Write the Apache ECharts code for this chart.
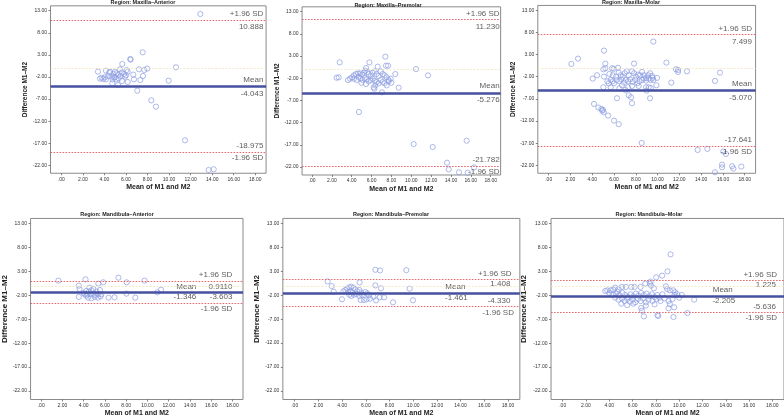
<!DOCTYPE html>
<html><head><meta charset="utf-8">
<script src="https://cdn.jsdelivr.net/npm/echarts@6/dist/echarts.min.js"></script>
<style>html,body{margin:0;padding:0;background:#fff}#c{width:784px;height:418px}</style>
</head><body><div id="c"></div>
<script>
// ---------- data ----------
const panelTitles = ['Region: Maxilla–Anterior','Region: Maxilla–Premolar','Region: Maxilla–Molar',
  'Region: Mandibula–Anterior','Region: Mandibula–Premolar','Region: Mandibula–Molar'];
const xAxisName = 'Mean of M1 and M2';
const yAxisName = 'Difference M1–M2';
const yTicks = [13, 8, 3, -2, -7, -12, -17, -22];
const yTickLabels = ['13.00','8.00','3.00','-2.00','-7.00','-12.00','-17.00','-22.00'];
const xTicks = [0, 2, 4, 6, 8, 10, 12, 14, 16, 18];
const xTickLabels = ['.00','2.00','4.00','6.00','8.00','10.00','12.00','14.00','16.00','18.00'];

const meanDiff = [-4.043, -5.276, -5.070, -1.346, -1.461, -2.205];
const upperLimit = [10.888, 11.230, 7.499, 0.9110, 1.408, 1.225];
const lowerLimit = [-18.975, -21.782, -17.641, -3.603, -4.330, -5.636];
const upperText = ['10.888','11.230','7.499','0.9110','1.408','1.225'];
const meanText = ['-4.043','-5.276','-5.070','-1.346','-1.461','-2.205'];
const lowerText = ['-18.975','-21.782','-17.641','-3.603','-4.330','-5.636'];

const maxillaAnterior = [[12.90,12.25],[7.55,3.57],[6.40,2.07],[6.43,1.91],[5.66,0.93],[10.64,0.18],[7.98,-0.12],[7.70,-0.42],[7.21,-0.27],[3.40,-0.80],[4.14,-0.57],[4.52,-0.80],[4.98,-0.88],[5.44,-0.27],[6.06,-0.42],[6.16,-0.80],[5.13,-1.18],[4.83,-1.33],[5.29,-1.55],[5.60,-1.03],[5.82,-1.33],[6.00,-1.63],[5.91,-1.93],[5.51,-1.78],[4.98,-2.08],[4.67,-1.93],[4.36,-1.78],[4.05,-2.08],[3.74,-2.16],[3.59,-2.38],[3.90,-2.46],[4.14,-2.54],[4.45,-1.03],[4.76,-2.54],[4.89,-2.08],[5.10,-2.54],[5.32,-2.31],[6.68,-1.48],[6.74,-2.54],[7.33,-2.69],[7.58,-1.78],[5.63,-2.91],[6.16,-3.14],[4.73,-3.44],[5.26,-3.82],[9.96,-2.84],[7.05,-5.10],[8.35,-7.29],[8.78,-8.72],[11.48,-16.34],[13.67,-23.05],[14.14,-22.90]];

const maxillaPremolar = [[2.79,1.58],[7.39,2.86],[5.78,1.58],[6.62,0.60],[7.45,0.83],[7.66,0.83],[5.44,0.30],[10.48,0.08],[11.69,-1.35],[8.39,-1.05],[2.48,-1.88],[2.69,-1.80],[3.63,-2.40],[3.83,-2.10],[4.03,-1.80],[4.23,-1.35],[4.43,-1.05],[4.63,-0.90],[4.84,-0.90],[5.04,-1.20],[5.24,-0.75],[5.37,-0.30],[5.57,-0.60],[5.71,-1.05],[5.91,-1.50],[6.11,-0.75],[6.31,-0.45],[6.51,-1.05],[6.72,-1.50],[6.92,-0.45],[7.12,-1.05],[7.32,-1.35],[7.52,-1.80],[7.72,-2.40],[7.92,-2.10],[4.70,-1.65],[4.90,-2.10],[5.10,-2.40],[5.31,-1.95],[5.51,-2.25],[5.71,-2.70],[5.91,-2.40],[6.11,-2.10],[6.31,-2.55],[6.51,-2.85],[6.72,-3.15],[6.92,-2.40],[7.12,-2.85],[7.32,-3.15],[7.52,-3.60],[7.72,-2.70],[7.99,-3.00],[4.23,-2.10],[4.50,-2.40],[4.97,-3.00],[6.38,-3.60],[5.44,-3.30],[8.73,-4.13],[6.21,-4.05],[6.28,-4.36],[7.05,-5.18],[4.73,-9.61],[10.24,-16.83],[12.16,-17.50],[15.58,-16.08],[13.60,-21.03],[13.77,-22.54],[14.81,-23.21],[15.68,-23.29],[16.32,-22.09]];

const maxillaMolar = [[9.61,5.93],[5.08,3.90],[2.69,2.09],[2.08,0.89],[5.20,0.96],[7.84,0.96],[10.81,1.19],[11.69,-0.32],[11.88,-0.47],[11.88,-0.92],[12.70,-0.77],[15.73,-1.07],[15.27,-2.95],[11.26,-3.33],[9.89,-3.93],[4.04,-2.42],[4.44,-1.67],[5.02,-0.32],[5.20,-0.09],[5.82,-0.09],[5.97,-0.24],[6.37,0.02],[5.57,-1.37],[5.88,-1.67],[6.18,-1.97],[6.43,-1.07],[6.61,-1.67],[6.80,-1.97],[6.98,-1.22],[7.16,-0.77],[7.35,-1.67],[7.65,-0.77],[7.84,-1.22],[8.02,-1.97],[8.20,-1.52],[8.39,-1.67],[8.57,-0.92],[8.75,-1.67],[8.94,-2.27],[9.12,-1.67],[9.31,-1.22],[9.49,-1.82],[9.61,-2.73],[9.95,-2.27],[5.08,-1.97],[5.39,-3.03],[5.69,-2.73],[5.88,-3.03],[6.00,-3.48],[6.24,-2.73],[6.49,-3.03],[6.67,-2.58],[6.92,-3.33],[7.10,-2.73],[7.29,-3.03],[7.47,-2.58],[7.71,-3.18],[7.96,-2.73],[8.14,-3.48],[8.33,-3.03],[8.57,-2.73],[8.75,-2.42],[8.94,-2.88],[9.18,-2.42],[9.37,-2.73],[9.55,-2.27],[5.02,-4.38],[5.69,-4.38],[6.49,-4.61],[7.04,-4.98],[7.29,-4.38],[7.65,-4.08],[8.26,-4.08],[8.94,-4.38],[9.18,-4.38],[9.00,-5.13],[9.37,-4.53],[5.51,-3.48],[6.73,-3.93],[6.27,-6.86],[7.35,-6.19],[7.56,-6.64],[7.65,-7.99],[9.31,-6.86],[4.16,-8.14],[4.56,-8.97],[4.84,-9.27],[4.99,-9.50],[5.05,-10.02],[4.90,-9.65],[5.45,-10.78],[6.00,-11.91],[6.43,-12.73],[8.54,-16.95],[13.68,-18.53],[14.57,-18.30],[16.04,-18.90],[16.28,-19.43],[15.92,-21.84],[15.92,-22.44],[16.84,-22.21],[16.96,-22.74],[17.69,-22.29],[15.27,-23.57]];

const mandibulaAnterior = [[1.62,1.08],[4.17,1.35],[7.27,1.70],[9.73,1.08],[5.84,0.73],[5.38,0.45],[8.05,0.73],[3.54,0.03],[3.61,-0.67],[4.54,-0.39],[4.72,-0.95],[4.91,-0.67],[4.48,-1.23],[4.23,-1.09],[3.98,-1.51],[5.22,-1.23],[5.53,-0.88],[4.35,-1.78],[4.66,-1.78],[4.91,-1.64],[5.10,-1.92],[5.35,-1.78],[5.66,-1.78],[4.10,-1.78],[3.54,-2.34],[4.41,-2.48],[4.72,-2.62],[5.04,-2.34],[5.35,-2.48],[5.60,-2.20],[4.23,-2.06],[6.34,-2.48],[6.90,-2.41],[8.02,-1.64],[8.86,-2.48],[10.94,-1.37],[11.28,-0.81]];

const mandibulaPremolar = [[6.81,3.35],[7.20,3.21],[9.42,3.28],[2.78,0.92],[3.12,-0.06],[3.29,-1.24],[5.48,0.71],[6.81,0.08],[7.28,-0.54],[9.70,-0.61],[4.42,-0.61],[4.61,-0.33],[4.78,-0.19],[4.95,-0.47],[5.12,-0.75],[4.27,-0.89],[4.11,-1.17],[4.50,-1.31],[4.72,-1.03],[4.89,-1.44],[5.29,-1.17],[5.46,-0.89],[5.62,-1.44],[5.01,-1.86],[5.23,-1.72],[5.46,-2.14],[5.68,-1.86],[5.96,-1.31],[6.13,-1.58],[6.24,-2.00],[4.61,-1.86],[4.78,-2.14],[3.99,-2.83],[5.57,-2.97],[5.85,-2.97],[6.07,-2.83],[6.36,-2.69],[6.64,-2.28],[6.86,-3.04],[7.17,-2.42],[7.54,-2.42],[8.30,-3.46],[9.98,-3.04]];

const mandibulaMolar = [[9.26,6.58],[9.00,3.03],[8.54,2.12],[8.03,1.77],[7.54,0.87],[7.49,0.45],[7.09,0.45],[7.60,0.03],[7.83,-0.53],[6.69,-0.25],[6.17,-0.25],[5.89,-0.25],[5.43,-0.25],[5.09,-0.25],[4.80,-0.67],[4.51,-0.39],[4.34,-0.81],[4.11,-0.95],[3.83,-0.95],[4.69,-1.23],[8.86,-0.11],[8.97,-0.67],[9.20,-0.95],[9.49,-0.95],[9.66,-1.37],[9.83,-1.78],[10.00,-2.48],[9.60,-1.92],[10.23,-1.92],[4.00,-1.51],[4.29,-1.78],[4.57,-1.64],[4.86,-1.92],[5.14,-1.51],[5.37,-1.92],[5.60,-2.34],[5.83,-1.78],[6.06,-2.20],[6.29,-1.64],[6.51,-2.06],[6.74,-1.51],[6.97,-1.92],[7.20,-1.64],[7.43,-2.20],[7.66,-1.78],[7.89,-2.34],[8.11,-1.92],[8.34,-2.48],[8.57,-1.78],[4.51,-2.48],[4.80,-2.90],[5.09,-2.62],[5.31,-3.18],[5.54,-2.76],[5.77,-3.32],[6.00,-2.90],[6.23,-3.46],[6.46,-2.76],[6.69,-3.18],[6.91,-2.62],[7.14,-3.46],[7.37,-2.90],[7.71,-3.18],[8.06,-2.76],[8.40,-3.18],[8.74,-2.62],[9.09,-3.18],[9.43,-2.76],[5.03,-3.74],[5.54,-4.02],[6.06,-3.74],[7.14,-4.15],[7.89,-3.88],[9.20,-3.81],[9.57,-4.50],[9.09,-4.71],[11.29,-2.90],[10.71,-5.69],[9.51,-6.53],[8.14,-6.11],[8.20,-6.32],[6.97,-6.39],[6.74,-4.64],[6.80,-5.20],[3.66,-1.09]];

const panelData = [maxillaAnterior, maxillaPremolar, maxillaMolar, mandibulaAnterior, mandibulaPremolar, mandibulaMolar];

// ---------- layout (pixel anchors of ticks) ----------
const X_MIN = -1, X_MAX = 19, Y_MIN = -23.8, Y_MAX = 14.1;
const layout = [
  {x0: 61.3, x18: 255.3, y13: 10.7, ym22: 165.3, tx: 143, ty: 2, yGap: 22, big: false},
  {x0: 312.0, x18: 490.7, y13: 11.7, ym22: 167.0, tx: 388, ty: 5, yGap: 15.5, big: false},
  {x0: 548.7, x18: 744.7, y13: 10.3, ym22: 165.3, tx: 631, ty: 2.3, yGap: 20, big: false},
  {x0: 39.3, x18: 232.3, y13: 223.7, ym22: 391.0, tx: 117, ty: 214.7, yGap: 20.5, big: true},
  {x0: 294.7, x18: 508.0, y13: 223.7, ym22: 391.7, tx: 391, ty: 214.7, yGap: 21, big: true},
  {x0: 562.7, x18: 772.7, y13: 223.7, ym22: 391.0, tx: 649, ty: 214.7, yGap: 23, big: true}
];
// annotation placement: [text, x(data), line value, pixel dy]
function annotations(i) {
  const U = upperLimit[i], M = meanDiff[i], L = lowerLimit[i];
  const r = [18.75, 18.9, 18.67][i];
  if (i < 3) return [
    ['+1.96 SD', r, U, -6], [upperText[i], r, U, 7],
    ['Mean', r, M, -6.5], [meanText[i], r, M, 7.5],
    [lowerText[i], r, L, -6.5], ['-1.96 SD', r, L, 6]
  ];
  if (i === 3) return [
    ['+1.96 SD', 18.0, U, -7], [upperText[i], 18.0, U, 5.5], ['Mean', 14.6, U, 5.5],
    [meanText[i], 14.6, M, 5], [lowerText[i], 18.0, L, -6], ['-1.96 SD', 18.0, L, 5.5]
  ];
  if (i === 4) return [
    ['+1.96 SD', 18.3, U, -5.5], [upperText[i], 18.2, U, 5], ['Mean', 14.4, M, -6.3],
    [meanText[i], 14.6, M, 5.5], [lowerText[i], 18.2, L, -6], ['-1.96 SD', 18.5, L, 6]
  ];
  return [
    ['+1.96 SD', 18.4, U, -5.5], [upperText[i], 18.3, U, 4.8], ['Mean', 14.6, M, -6.5],
    [meanText[i], 14.8, M, 4.5], [lowerText[i], 18.3, L, -5.5], ['-1.96 SD', 18.4, L, 5]
  ];
}

const FONT = 'Liberation Sans, Arial, sans-serif';
const grids = [], xAxes = [], yAxes = [], series = [], graphics = [];
layout.forEach((p, i) => {
  const px = (p.x18 - p.x0) / 18;
  const py = (p.ym22 - p.y13) / 35;
  const left = p.x0 + (X_MIN) * px;
  const top = p.y13 - (Y_MAX - 13) * py;
  grids.push({left: left, top: top, width: (X_MAX - X_MIN) * px, height: (Y_MAX - Y_MIN) * py,
    show: true, borderColor: '#8a8a8a', borderWidth: 1, backgroundColor: '#fff', containLabel: false});
  xAxes.push({type: 'value', gridIndex: i, min: X_MIN, max: X_MAX,
    name: xAxisName, nameLocation: 'middle', nameGap: 10.5,
    nameTextStyle: {fontFamily: FONT, fontWeight: 'bold', fontSize: 7, color: '#222'},
    axisLine: {show: false, onZero: false}, splitLine: {show: false},
    axisTick: {show: true, length: 2, lineStyle: {color: '#666', width: 0.8}, customValues: xTicks},
    axisLabel: {customValues: xTicks, fontSize: 5, fontFamily: FONT, color: '#333', margin: 3.5,
      formatter: v => xTickLabels[xTicks.indexOf(v)]}
  });
  yAxes.push({type: 'value', gridIndex: i, min: Y_MIN, max: Y_MAX,
    name: yAxisName, nameLocation: 'middle', nameGap: p.yGap, nameRotate: 90,
    nameTextStyle: {fontFamily: FONT, fontWeight: 'bold', fontSize: p.big ? 8 : 6.5, color: '#222'},
    axisLine: {show: false, onZero: false}, splitLine: {show: false},
    axisTick: {show: true, length: 2, lineStyle: {color: '#666', width: 0.8}, customValues: yTicks},
    axisLabel: {customValues: yTicks, fontSize: 5, fontFamily: FONT, color: '#333', margin: 3.5,
      formatter: v => yTickLabels[yTicks.indexOf(v)]}
  });
  series.push({type: 'scatter', xAxisIndex: i, yAxisIndex: i, data: panelData[i],
    symbol: 'circle', symbolSize: 5.2, silent: true,
    itemStyle: {color: 'rgba(255,255,255,0)', borderColor: '#8d9de2', borderWidth: 0.9},
    markLine: {silent: true, symbol: 'none', label: {show: false}, animation: false,
      data: [
        {yAxis: 0, lineStyle: {color: '#f0e4bc', type: [2, 1.5], width: 0.8}},
        {yAxis: upperLimit[i], lineStyle: {color: '#e4585c', type: [1.6, 1.4], width: 0.9}},
        {yAxis: lowerLimit[i], lineStyle: {color: '#e4585c', type: [1.6, 1.4], width: 0.9}},
        {yAxis: meanDiff[i], lineStyle: {color: '#4650a0', type: 'solid', width: 2.5}}
      ]}
  });
  series.push({type: 'scatter', xAxisIndex: i, yAxisIndex: i, silent: true, symbolSize: 0,
    data: annotations(i).map(a => ({value: [a[1], a[2]],
      label: {show: true, formatter: a[0], position: [0, 0], align: 'right', verticalAlign: 'middle',
        offset: [0, a[3]], fontSize: 8, fontFamily: FONT, color: '#333'}}))
  });
  graphics.push({type: 'text', x: p.tx, y: p.ty, silent: true,
    style: {text: panelTitles[i], align: 'center', verticalAlign: 'middle',
      font: 'bold 5.5px ' + FONT, fill: '#222'}});
});

const chart = echarts.init(document.getElementById('c'), null, {renderer: 'canvas'});
chart.setOption({animation: false, backgroundColor: '#fff', grid: grids, xAxis: xAxes, yAxis: yAxes,
  series: series, graphic: graphics});
</script></body></html>
